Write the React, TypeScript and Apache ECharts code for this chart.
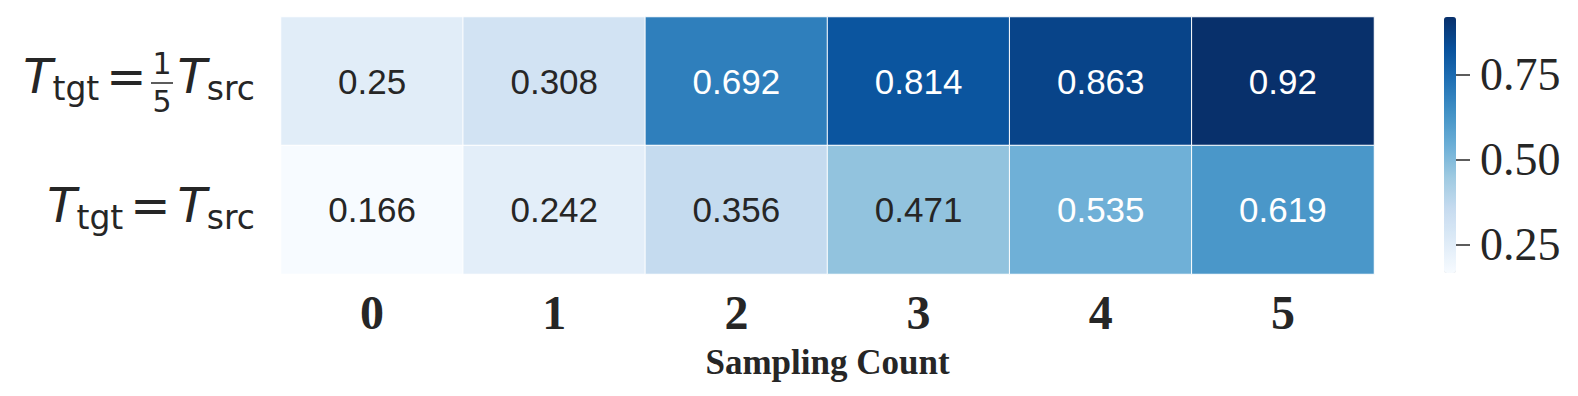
import React, { useEffect, useRef } from "react";
import * as echarts from "echarts";

const sampleCounts = ["0", "1", "2", "3", "4", "5"];
const rowKeys = ["fifth", "equal"];
const fifthSrcValues = [0.25, 0.308, 0.692, 0.814, 0.863, 0.92];
const equalSrcValues = [0.166, 0.242, 0.356, 0.471, 0.535, 0.619];
const colorbarTicks = [0.25, 0.5, 0.75];
const colorMin = 0.166;
const colorMax = 0.92;
const blues = ["#f7fbff", "#deebf7", "#c6dbef", "#9ecae1", "#6baed6", "#4292c6", "#2171b5", "#08519c", "#08306b"];

const TEXT = "#262626";

export default function App() {
  const ref = useRef<HTMLDivElement>(null);
  useEffect(() => {
    document.body.style.margin = "0";
    const chart = echarts.init(ref.current!, null, { renderer: "svg" });
    const rows = [fifthSrcValues, equalSrcValues];
    const data: any[] = [];
    rows.forEach((row, r) => {
      row.forEach((v, c) => {
        data.push({
          value: [c, r, v],
          label: { color: v >= 0.5 ? "#ffffff" : TEXT },
        });
      });
    });
    const mathFont = "DejaVu Sans";
    const option: any = {
      animation: false,
      backgroundColor: "#ffffff",
      grid: [
        { left: 281, right: 204, top: 17, height: 257 },
        { left: 1444, width: 12, top: 17, height: 256 },
      ],
      xAxis: [
        {
          type: "category",
          data: sampleCounts,
          gridIndex: 0,
          axisLine: { show: false },
          axisTick: { show: false },
          splitLine: { show: false },
          axisLabel: {
            fontFamily: "Liberation Serif",
            fontWeight: "bold",
            fontSize: 48,
            color: TEXT,
            margin: 38,
            verticalAlign: "middle",
          },
          name: "Sampling Count",
          nameLocation: "middle",
          nameGap: 71,
          nameTextStyle: {
            fontFamily: "Liberation Serif",
            fontWeight: "bold",
            fontSize: 35,
            color: TEXT,
          },
        },
        { type: "value", gridIndex: 1, show: false, min: 0, max: 1 },
      ],
      yAxis: [
        {
          type: "category",
          data: rowKeys,
          inverse: true,
          gridIndex: 0,
          axisLine: { show: false },
          axisTick: { show: false },
          splitLine: { show: false },
          axisLabel: {
            margin: 26,
            padding: [0, 0, 10, 0],
            formatter: (_v: string, idx: number) =>
              idx === 0
                ? "{T|T}{sub|tgt}{eq|=}{frac| }{T|T}{sub|src}"
                : "{T|T}{sub|tgt}{eq|=}{T|T}{sub|src}",
            rich: {
              T: { fontFamily: mathFont, fontStyle: "italic", fontSize: 48, color: TEXT },
              sub: { fontFamily: mathFont, fontSize: 33, color: TEXT, padding: [25, 0, 0, 0] },
              eq: { fontFamily: mathFont, fontSize: 48, color: TEXT, padding: [0, 7, 0, 7] },
              frac: { fontFamily: mathFont, fontSize: 30, width: 24 },
            },
          },
        },
        {
          type: "value",
          gridIndex: 1,
          position: "right",
          min: colorMin,
          max: colorMax,
          axisLine: { show: false, onZero: false },
          splitLine: { show: false },
          axisTick: {
            show: true,
            inside: false,
            length: 14,
            customValues: colorbarTicks,
            lineStyle: { color: TEXT, width: 1.5 },
          },
          axisLabel: {
            customValues: colorbarTicks,
            margin: 24,
            fontFamily: "Liberation Serif",
            fontSize: 46,
            color: TEXT,
            formatter: (v: number) => v.toFixed(2),
          },
        },
      ],
      visualMap: {
        type: "continuous",
        seriesIndex: 0,
        min: colorMin,
        max: colorMax,
        calculable: false,
        hoverLink: false,
        orient: "vertical",
        left: 1444,
        top: 17,
        padding: 0,
        itemWidth: 12,
        itemHeight: 256,
        inRange: { color: blues },
      },
      graphic: [
        {
          type: "text",
          x: 162,
          y: 63,
          style: { text: "1", fontFamily: mathFont, fontSize: 30, fill: TEXT, align: "center", verticalAlign: "middle" },
        },
        {
          type: "text",
          x: 162,
          y: 101,
          style: { text: "5", fontFamily: mathFont, fontSize: 30, fill: TEXT, align: "center", verticalAlign: "middle" },
        },
        {
          type: "line",
          shape: { x1: 151, y1: 83, x2: 173, y2: 83 },
          style: { stroke: TEXT, lineWidth: 1.5 },
        },
      ],
      series: [
        {
          type: "heatmap",
          xAxisIndex: 0,
          yAxisIndex: 0,
          data,
          itemStyle: { borderColor: "#ffffff", borderWidth: 1 },
          emphasis: { disabled: true },
          label: {
            show: true,
            fontFamily: "Liberation Sans",
            fontSize: 35,
            formatter: (p: any) => String(p.value[2]),
          },
        },
      ],
    };
    chart.setOption(option);
    return () => chart.dispose();
  }, []);
  return <div ref={ref} style={{ width: 1578, height: 396 }} />;
}
